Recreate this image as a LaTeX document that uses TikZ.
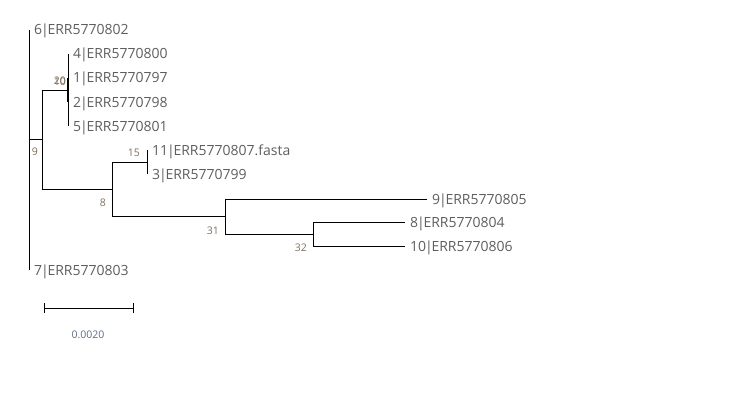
\documentclass[tikz,border=0pt]{standalone}
\usepackage{fontspec}
\setmainfont{Open Sans}
\definecolor{tiptext}{HTML}{5E5E5E}
\definecolor{supptext}{HTML}{7D6E5C}
\definecolor{scaletext}{HTML}{5C6B82}
\newcommand{\tipsep}{\kern-1.2pt|\kern-1.2pt}
\tikzset{
  branch/.style={line width=1pt, black},
  tiplabel/.style={anchor=base west, inner sep=0pt, xshift=5pt, yshift=-5pt, text=tiptext, font=\fontsize{14}{16}\selectfont},
  supplabel/.style={inner sep=0pt, text=supptext, font=\fontsize{10.5}{12}\selectfont}
}
\begin{document}
\begin{tikzpicture}[x=1pt,y=-1pt]
\useasboundingbox (0,0) rectangle (742,404);
% inner nodes
\coordinate (root) at (29,139);
\coordinate (n9) at (42,139);
\coordinate (nA) at (68,91);
\coordinate (nB) at (68,90);
\coordinate (n8) at (112,189);
\coordinate (n15) at (147,162);
\coordinate (n31) at (225,216);
\coordinate (n32) at (313,234);
% tips
\coordinate (t6) at (29,30);
\coordinate (t7) at (29,270);
\coordinate (t4) at (68,54);
\coordinate (t1) at (68,78);
\coordinate (t2) at (68,102);
\coordinate (t5) at (68,126);
\coordinate (t11) at (147,150);
\coordinate (t3) at (147,174);
\coordinate (t9) at (427,199);
\coordinate (t8) at (405,222);
\coordinate (t10) at (405,246);
% branches
\draw [branch] (root) |- (t6);
\draw [branch] (root) |- (t7);
\draw [branch] (root) -- (n9);
\draw [branch] (n9) |- (nA);
\draw [branch] (n9) |- (n8);
\draw [branch] (nA) |- (t4);
\draw [branch] (nA) |- (t5);
\draw [branch, line width=2.6pt] (t1) -- (t2);
\draw [branch] (n8) |- (n15);
\draw [branch] (n8) |- (n31);
\draw [branch] (n15) |- (t11);
\draw [branch] (n15) |- (t3);
\draw [branch] (n31) |- (t9);
\draw [branch] (n31) |- (n32);
\draw [branch] (n32) |- (t8);
\draw [branch] (n32) |- (t10);
% tip labels
\node [tiplabel] (l6) at (t6) {6\tipsep ERR5770802};
\node [tiplabel] (l4) at (t4) {4\tipsep ERR5770800};
\node [tiplabel] (l1) at (t1) {1\tipsep ERR5770797};
\node [tiplabel] (l2) at (t2) {2\tipsep ERR5770798};
\node [tiplabel] (l5) at (t5) {5\tipsep ERR5770801};
\node [tiplabel] (l11) at (t11) {11\tipsep ERR5770807.fasta};
\node [tiplabel] (l3) at (t3) {3\tipsep ERR5770799};
\node [tiplabel] (l9) at (t9) {9\tipsep ERR5770805};
\node [tiplabel] (l8) at (t8) {8\tipsep ERR5770804};
\node [tiplabel] (l10) at (t10) {10\tipsep ERR5770806};
\node [tiplabel] (l7) at (t7) {7\tipsep ERR5770803};
% support values
\node [supplabel, anchor=north east] (s9) at ([xshift=-4pt,yshift=-9pt]n9) {9};
\node [supplabel, anchor=north east] (s8) at ([xshift=-6pt,yshift=-10pt]n8) {8};
\node [supplabel, anchor=north east] (s31) at ([xshift=-6pt,yshift=-11pt]n31) {31};
\node [supplabel, anchor=north east] (s32) at ([xshift=-6pt,yshift=-10pt]n32) {32};
\node [supplabel, anchor=south east] (s15) at ([xshift=-7pt,yshift=5pt]n15) {15};
\node [supplabel, anchor=south east] (s10) at ([xshift=-2pt,yshift=5pt]nA) {10};
\node [supplabel, anchor=south east] (s20) at ([xshift=-2pt,yshift=5pt]nB) {20};
% scale bar
\coordinate (sbl) at (44,308);
\coordinate (sbr) at (133,308);
\draw [branch] (sbl) -- (sbr);
\draw [branch] ([yshift=-5pt]sbl) -- ([yshift=5pt]sbl);
\draw [branch] ([yshift=-5pt]sbr) -- ([yshift=5pt]sbr);
\node [supplabel, text=scaletext] (sbt) at (88,335) {0.0020};
\end{tikzpicture}
\end{document}
